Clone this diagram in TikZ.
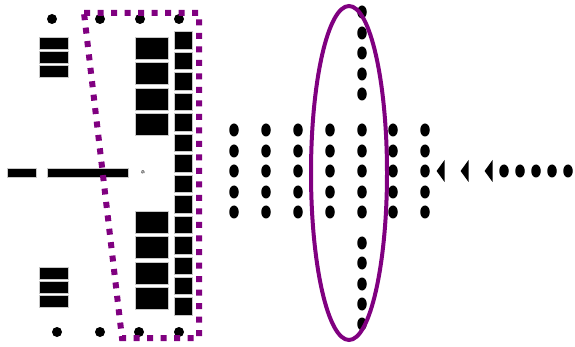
\documentclass[tikz,border=0pt]{standalone}
\usepackage{xcolor}
\usepackage{tikz}
\usetikzlibrary{shapes.geometric}
\definecolor{roxo}{RGB}{128,0,128}
\definecolor{cinzaborda}{RGB}{200,200,200}
\tikzset{
  bola/.style={circle,fill=black,minimum size=10pt,inner sep=0pt},
  ponto/.style={ellipse,fill=black,minimum width=9.5pt,minimum height=13pt,
    inner sep=0pt},
  barra/.style={rectangle,fill=black,draw=cinzaborda,line width=0.6pt,
    minimum width=29pt,minimum height=12pt,inner sep=0pt},
  blocog/.style={rectangle,fill=black,draw=cinzaborda,line width=0.6pt,
    minimum width=33pt,minimum height=22pt,inner sep=0pt},
  blocop/.style={rectangle,fill=black,draw=cinzaborda,line width=0.6pt,
    minimum width=18pt,minimum height=17.5pt,inner sep=0pt},
  ponta/.style={isosceles triangle,isosceles triangle stretches,fill=black,
    shape border rotate=180,minimum height=8pt,minimum width=22pt,inner sep=0pt},
  contorno/.style={roxo,line width=6pt,dash pattern=on 6pt off 7.5pt}
}
\begin{document}
\begin{tikzpicture}[x=1pt,y=-1pt]
  \useasboundingbox (0,0) rectangle (575,347);
  % entrada
  \foreach \x [count=\i] in {52,100,140,179}
    \node[bola] (topo\i) at (\x,19) {};
  \foreach \x [count=\i] in {57,100,139,179}
    \node[bola] (base\i) at (\x,332) {};
  \foreach \y [count=\i] in {43,57,71}
    \node[barra] (bs\i) at (53.5,\y) {};
  \foreach \y [count=\i] in {273,287,301}
    \node[barra] (bi\i) at (53.5,\y) {};
  \node[barra,minimum width=29pt,minimum height=9pt] (meio1) at (21.5,172.5) {};
  \node[barra,minimum width=81pt,minimum height=9pt] (meio2) at (87.5,172.5) {};
  \node[font=\tiny\bfseries,inner sep=0pt,rotate=-90] (seis) at (143,172) {6};
  \foreach \y [count=\i] in {48,73.5,99,124.5,222,247.5,273,298.5}
    \node[blocog] (g\i) at (151.5,\y) {};
  \foreach \i in {1,...,14}
    \node[blocop] (p\i) at (183,{40.5+(\i-1)*20.46}) {};
  \draw[contorno] (84,13) -- (199,13) -- (199,338) -- (122,338) -- cycle;
  % camadas
  \foreach \x [count=\c] in {234,266,298,330,362,393,425}
    \foreach \y [count=\l] in {130,151,171,192,212}
      \node[ponto] (c\c-\l) at (\x,\y) {};
  \foreach \y [count=\i] in {12,33,53,74,94,243,263,284,304,324}
    \node[ponto] (e\i) at (362,\y) {};
  \draw[roxo,line width=4pt] (349,173) ellipse (38pt and 167pt);
  \foreach \x [count=\i] in {441,465,489}
    \node[ponta] (t\i) at (\x,171) {};
  \foreach \x [count=\i] in {504,520,536,552,568}
    \node[ponto] (s\i) at (\x,171) {};
\end{tikzpicture}
\end{document}
